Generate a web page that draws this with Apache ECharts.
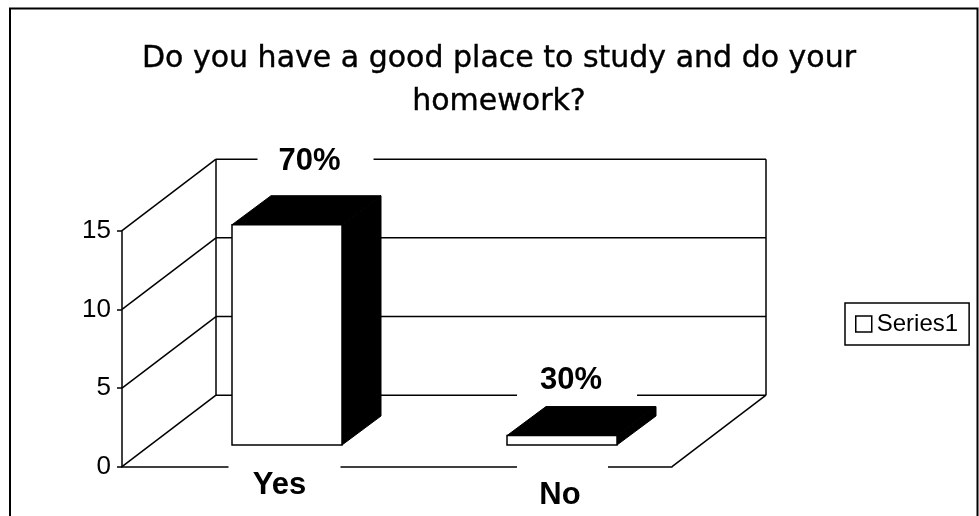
<!DOCTYPE html>
<html>
<head>
<meta charset="utf-8">
<style>html,body{margin:0;padding:0;background:#fff}#c{width:979px;height:516px}</style>
<script src="https://cdn.jsdelivr.net/npm/echarts@6/dist/echarts.min.js"></script>
</head>
<body>
<div id="c"></div>
<script>
var categories = ['Yes', 'No'];
var seriesName = 'Series1';
var seriesValues = [14, 0.6];
var percentLabels = ['70%', '30%'];
var yTicks = [0, 5, 10, 15];
var titleText = 'Do you have a good place to study and do your\nhomework?';

var FONT = '"Liberation Sans", Arial, sans-serif';
var WALL_DX = 94, WALL_DY = 71.5;
var BAR_FX = 27.5, BAR_FY = 21.7, BAR_DX = 39, BAR_DY = 29;
var line = {stroke: '#000', lineWidth: 1.5, fill: null};
var labelBox = [ {dx: -29.5, dy: -53.5, padL: 21, padR: 33}, {dx: -45, dy: -45.5, padL: 23, padR: 35} ];
var axisGap = [ {dx: -31, w: 112}, {dx: -17.5, w: 91} ];

function renderWall(params, api) {
  var cs = params.coordSys;
  var y = api.coord([0, api.value(0)])[1];
  var kids = [{type: 'line', shape: {x1: cs.x, y1: y, x2: cs.x + WALL_DX, y2: y - WALL_DY}, style: line},
              {type: 'line', shape: {x1: cs.x + WALL_DX, y1: y - WALL_DY, x2: cs.x + cs.width + WALL_DX, y2: y - WALL_DY}, style: line}];
  if (params.dataIndex === 0) {
    kids.push({type: 'line', shape: {x1: cs.x + cs.width, y1: y, x2: cs.x + cs.width + WALL_DX, y2: y - WALL_DY}, style: line});
    var top = api.coord([0, yTicks[yTicks.length - 1]])[1] - WALL_DY;
    kids.push({type: 'line', shape: {x1: cs.x + WALL_DX, y1: y - WALL_DY, x2: cs.x + WALL_DX, y2: top}, style: line});
    kids.push({type: 'line', shape: {x1: cs.x + cs.width + WALL_DX, y1: y - WALL_DY, x2: cs.x + cs.width + WALL_DX, y2: top}, style: line});
  }
  return {type: 'group', children: kids};
}

function renderBar(params, api) {
  var i = params.dataIndex;
  var base = api.coord([i, 0]);
  var topPt = api.coord([i, api.value(1)]);
  var w = api.size([1, 0])[0] * 0.4;
  var x0 = base[0] + BAR_FX - w / 2, x1 = x0 + w;
  var yb = base[1] - BAR_FY, yt = topPt[1] - BAR_FY;
  var gap = axisGap[i], box = labelBox[i];
  var bs = {stroke: '#000', lineWidth: 1, fill: '#000'};
  return {type: 'group', children: [
    {type: 'rect', shape: {x: base[0] + gap.dx, y: base[1] - 3, width: gap.w, height: 6}, style: {fill: '#fff'}},
    {type: 'polygon', shape: {points: [[x0, yt], [x0 + BAR_DX, yt - BAR_DY], [x1 + BAR_DX, yt - BAR_DY], [x1, yt]]}, style: bs},
    {type: 'polygon', shape: {points: [[x1, yt], [x1 + BAR_DX, yt - BAR_DY], [x1 + BAR_DX, yb - BAR_DY], [x1, yb]]}, style: bs},
    {type: 'rect', shape: {x: x0, y: yt, width: w, height: yb - yt}, style: {fill: '#fff', stroke: '#000', lineWidth: 1.5}},
    {type: 'text', x: x0 + w / 2 + box.dx, y: yt - BAR_DY + box.dy, style: {
      text: percentLabels[i], font: 'bold 31px ' + FONT, fill: '#000', backgroundColor: '#fff',
      padding: [4, box.padR, 4, box.padL], align: 'left', verticalAlign: 'top'}}
  ]};
}

var chart = echarts.init(document.getElementById('c'), null, {renderer: 'canvas'});
chart.setOption({
  animation: false,
  backgroundColor: '#fff',
  title: {
    text: titleText, left: 494, top: 33, textAlign: 'center',
    textStyle: {fontFamily: '"DejaVu Sans", ' + FONT, fontSize: 30, fontWeight: 'normal', color: '#000', lineHeight: 43,
      textBorderColor: '#000', textBorderWidth: 0.4}
  },
  legend: {
    left: 845, top: 303, orient: 'vertical', padding: [9, 11, 9, 10],
    borderColor: '#000', borderWidth: 1.5, borderRadius: 0, itemWidth: 16, itemHeight: 16, itemGap: 0,
    selectedMode: false,
    data: [{name: seriesName, icon: 'rect', itemStyle: {color: '#fff', borderColor: '#000', borderWidth: 1.5}}],
    textStyle: {fontFamily: FONT, fontSize: 24, color: '#000'}
  },
  grid: {left: 122, top: 230.7, width: 550, height: 236, containLabel: false},
  xAxis: {
    type: 'category', data: categories,
    axisLine: {show: true, lineStyle: {color: '#000', width: 1.5}},
    axisTick: {show: false},
    axisLabel: {
      margin: 3, interval: 0,
      formatter: function (v) { return '{' + v + '|' + v + '}'; },
      rich: {
        Yes: {fontFamily: FONT, fontSize: 31, fontWeight: 'bold', color: '#000', padding: [0, 0, 0, 40]},
        No: {fontFamily: FONT, fontSize: 31, fontWeight: 'bold', color: '#000', padding: [10, 0, 0, 51]}
      }
    },
    splitLine: {show: false}
  },
  yAxis: {
    type: 'value', min: 0, max: 15, interval: 5,
    axisLine: {show: true, lineStyle: {color: '#000', width: 1.5}},
    axisTick: {show: true, length: 5, inside: false, lineStyle: {color: '#000', width: 1.5}},
    axisLabel: {fontFamily: FONT, fontSize: 26, color: '#000', margin: 11},
    splitLine: {show: false}
  },
  graphic: [{
    type: 'polyline', silent: true,
    shape: {points: [[10, 516], [10, 8.5], [977.5, 8.5], [977.5, 516]]},
    style: {stroke: '#000', lineWidth: 2, fill: null}
  }],
  series: [
    {type: 'custom', name: 'wall', coordinateSystem: 'cartesian2d', clip: false, silent: true, z: 1,
     data: yTicks.map(function (t) { return [t]; }), encode: {y: 0}, renderItem: renderWall},
    {type: 'custom', name: seriesName, coordinateSystem: 'cartesian2d', clip: false, z: 2,
     itemStyle: {color: '#fff', borderColor: '#000'},
     data: categories.map(function (c, i) { return [i, seriesValues[i]]; }), encode: {x: 0, y: 1}, renderItem: renderBar}
  ]
});
</script>
</body>
</html>
